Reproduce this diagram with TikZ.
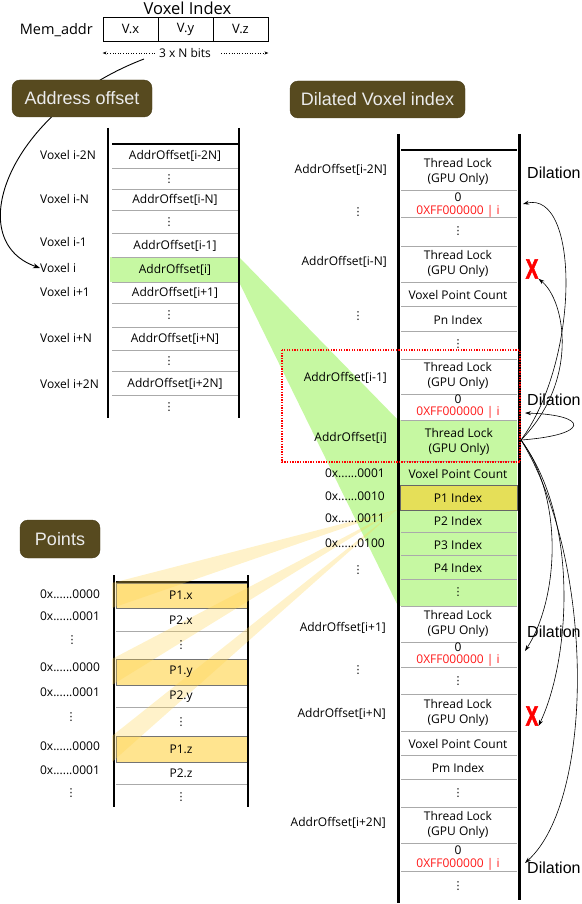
\documentclass[tikz,border=0pt]{standalone}
\usepackage{fontspec}
\setmainfont{Open Sans}
\newfontfamily\hdr{Liberation Sans}
\newfontfamily\xf[FakeBold=2.5]{Liberation Sans}
\newfontfamily\dvs{DejaVu Sans}
\usetikzlibrary{arrows.meta}
\definecolor{hdrbg}{HTML}{574A1F}
\definecolor{lgreen}{HTML}{C6F8A2}
\definecolor{pyellow}{HTML}{FFE48F}
\definecolor{pidx}{HTML}{E5DF58}
\definecolor{sepgray}{HTML}{AAAAAA}
\definecolor{coney}{HTML}{FFD54F}
\definecolor{redtx}{HTML}{FF1A1A}
\tikzset{
  body/.style={font=\fontsize{12}{15}\selectfont, inner sep=0pt, align=center},
  top/.style={font=\fontsize{14.5}{17}\selectfont, inner sep=0pt},
  cell/.style={draw=black, line width=0.8pt, minimum height=24pt, minimum width=55pt, inner sep=0pt, font=\fontsize{13}{15}\selectfont},
  hdrbox/.style={fill=hdrbg, draw=hdrbg!85!black, rounded corners=8pt, text=white!92!black, font=\hdr\fontsize{18}{20}\selectfont, inner sep=0pt},
  sep/.style={draw=sepgray, line width=0.8pt},
  vline/.style={draw=black, line width=1.4pt},
  thick3/.style={draw=black, line width=3pt},
  redtxt/.style={body, text=redtx},
  dil/.style={font=\hdr\fontsize{16}{18}\selectfont, inner sep=0pt, anchor=west},
  xmark/.style={font=\xf\bfseries\fontsize{28}{28}\selectfont, text=red, inner sep=0pt},
  darr/.style={-{Stealth[length=6pt,width=4pt]}, line width=0.6pt},
  dotarr/.style={dotted, line width=0.6pt, -{Stealth[length=4pt,width=3pt]}},
  vd/.style={inner sep=0pt, font=\dvs\fontsize{11}{11}\selectfont},
  pyrow/.style={fill=pyellow, draw=black!55, line width=1pt},
}
\newcommand{\vdt}{⋮}
\begin{document}
\begin{tikzpicture}[x=1pt,y=-1pt]
\useasboundingbox (0,0) rectangle (581,904);

% ---------- green cone ----------
\fill[lgreen] (239,257) -- (398,420) -- (398,606) -- (239,282) -- cycle;

% ---------- top: memory address ----------
\node[top, font=\fontsize{16.5}{18}\selectfont] (vidx) at (187.5,8) {Voxel Index};
\node[top, anchor=east] (mem) at (93,30) {Mem\_addr};
\node[cell] (vx) at (130.5,29) {V.x};
\node[cell] (vy) at (185.5,29) {V.y};
\node[cell] (vz) at (240.5,29) {V.z};
\node[body] (bits) at (185,53) {3 x N bits};
\draw[dotarr] (bits.west) ++(-4,0) -- (bits.west -| vx.west);
\draw[dotarr] (bits.east) ++(10,0) -- (bits.east -| vz.east);

% ---------- left table ----------
\fill[lgreen] (110,257) rectangle (239,282);
\foreach \y in {168,189,210,233,257,282,303,327,350,371,395}
  \draw[sep] (112,\y) -- (239,\y);
\draw[line width=1.2pt] (112,144) -- (239,144);
\draw[vline] (108,128) -- (108,418);
\draw[vline] (239,128) -- (239,418);

\node[body] (a1) at (175,156) {AddrOffset[i-2N]};
\node[vd] (ad1) at (169,179) {\vdt};
\node[body] (a2) at (175,200) {AddrOffset[i-N]};
\node[vd] (ad2) at (169,222) {\vdt};
\node[body] (a3) at (175,246) {AddrOffset[i-1]};
\node[body] (a4) at (175,270) {AddrOffset[i]};
\node[body] (a5) at (175,293) {AddrOffset[i+1]};
\node[vd] (ad3) at (169,315) {\vdt};
\node[body] (a6) at (175,339) {AddrOffset[i+N]};
\node[vd] (ad4) at (169,361) {\vdt};
\node[body] (a7) at (175,384) {AddrOffset[i+2N]};
\node[vd] (ad5) at (169,407) {\vdt};

\node[body, anchor=west] (v1) at (40,155) {Voxel i-2N};
\node[body, anchor=west] (v2) at (40,199) {Voxel i-N};
\node[body, anchor=west] (v3) at (40,242) {Voxel i-1};
\node[body, anchor=west] (v4) at (40,268) {Voxel i};
\node[body, anchor=west] (v5) at (40,292) {Voxel i+1};
\node[body, anchor=west] (v6) at (40,338) {Voxel i+N};
\node[body, anchor=west] (v7) at (40,384) {Voxel i+2N};

% curve from bits to Voxel i (behind header box)
\coordinate (cs) at (144,59);
\draw[line width=0.9pt, -{Stealth[length=7pt,width=5pt]}] (cs) .. controls (10,110) and (-40,240) .. (v4.west);
\node[hdrbox, minimum width=140pt, minimum height=37pt] (hAO) at (82,98.5) {Address offset};

% ---------- right table ----------
\fill[lgreen] (399,420) rectangle (517,606);
\foreach \y in {190,217,246,282,306,331,359,394,420,461,485,510,532,555,579,606,642,667,694,731,755,779,807,843,871}
  \draw[sep] (401,\y) -- (517,\y);
\draw[pyrow, fill=pidx, draw=black!60] (400,485) rectangle (517,510);
\draw[line width=1.2pt] (401,150) -- (517,150);

% ---------- points table ----------
\draw[pyrow] (116,583) rectangle (247,608);
\draw[pyrow] (116,659) rectangle (247,685);
\draw[pyrow] (116,736) rectangle (247,762);
\foreach \y in {631,707,784}
  \draw[sep] (116,\y) -- (247,\y);
\draw[line width=1.2pt] (116,582) -- (247,582);
\draw[vline] (114,575) -- (114,807);
\draw[vline] (248,575) -- (248,807);

% ---------- yellow cones ----------
\coordinate (yap) at (396,510);
\fill[coney, opacity=0.3] (yap) -- (112,583) -- (112,608) -- cycle;
\fill[coney, opacity=0.3] (yap) -- (112,659) -- (112,685) -- cycle;
\fill[coney, opacity=0.3] (yap) -- (112,736) -- (112,762) -- cycle;

% right table vertical lines
\draw[thick3] (398,134) -- (398,903);
\draw[thick3] (519,134) -- (519,900);

% right table texts
\node[body] (r1) at (458,172) {Thread Lock\\(GPU Only)};
\node[body] (r2a) at (458,197) {0};
\node[redtxt] (r2b) at (458,211) {0XFF000000 | i};
\node[vd] (r3) at (458,231) {\vdt};
\node[body] (r4) at (458,264) {Thread Lock\\(GPU Only)};
\node[body] (r5) at (458,295) {Voxel Point Count};
\node[body] (r6) at (458,320) {Pn Index};
\node[vd] (r7) at (458,344) {\vdt};
\node[body] (r8) at (458,376) {Thread Lock\\(GPU Only)};
\node[body] (r9a) at (458,399.5) {0};
\node[redtxt] (r9b) at (458,412.5) {0XFF000000 | i};
\node[body] (r10) at (459,442) {Thread Lock\\(GPU Only)};
\node[body] (r11) at (458,474) {Voxel Point Count};
\node[body] (r12) at (458,498) {P1 Index};
\node[body] (r13) at (458,521) {P2 Index};
\node[body] (r14) at (458,545) {P3 Index};
\node[body] (r15) at (458,568) {P4 Index};
\node[vd] (r16) at (458,592) {\vdt};
\node[body] (r17) at (458,624) {Thread Lock\\(GPU Only)};
\node[body] (r18a) at (458,647) {0};
\node[redtxt] (r18b) at (458,660) {0XFF000000 | i};
\node[vd] (r19) at (458,681) {\vdt};
\node[body] (r20) at (458,713) {Thread Lock\\(GPU Only)};
\node[body] (r21) at (458,744) {Voxel Point Count};
\node[body] (r22) at (458,768) {Pm Index};
\node[vd] (r23) at (458,793) {\vdt};
\node[body] (r24) at (458,825) {Thread Lock\\(GPU Only)};
\node[body] (r25a) at (458,850) {0};
\node[redtxt] (r25b) at (458,864) {0XFF000000 | i};
\node[vd] (r26) at (458,886) {\vdt};

% right table left labels
\node[body, anchor=east] (l1) at (387,170) {AddrOffset[i-2N]};
\node[vd] (ld1) at (358,212) {\vdt};
\node[body, anchor=east] (l2) at (387,262) {AddrOffset[i-N]};
\node[vd] (ld2) at (358,316) {\vdt};
\node[body, anchor=east] (l3) at (387,378) {AddrOffset[i-1]};
\node[body, anchor=east] (l4) at (387,438) {AddrOffset[i]};
\node[body, anchor=east] (l5) at (385,473) {0x......0001};
\node[body, anchor=east] (l6) at (385,496) {0x......0010};
\node[body, anchor=east] (l7) at (385,518) {0x......0011};
\node[body, anchor=east] (l8) at (385,543) {0x......0100};
\node[vd] (ld3) at (358,570) {\vdt};
\node[body, anchor=east] (l9) at (386,628) {AddrOffset[i+1]};
\node[vd] (ld4) at (358,670) {\vdt};
\node[body, anchor=east] (l10) at (386,714) {AddrOffset[i+N]};
\node[body, anchor=east] (l11) at (386,823) {AddrOffset[i+2N]};

% points texts
\node[body] (p1) at (181,595) {P1.x};
\node[body] (p2) at (181,620) {P2.x};
\node[vd] (p3) at (181,645) {\vdt};
\node[body] (p4) at (181,672) {P1.y};
\node[body] (p5) at (181,697) {P2.y};
\node[vd] (p6) at (181,722) {\vdt};
\node[body] (p7) at (181,749) {P1.z};
\node[body] (p8) at (181,773) {P2.z};
\node[vd] (p9) at (181,797) {\vdt};

\node[body] (q1) at (70,594) {0x......0000};
\node[body] (q2) at (70,616) {0x......0001};
\node[vd] (q3) at (72,640) {\vdt};
\node[body] (q4) at (70,667) {0x......0000};
\node[body] (q5) at (70,692) {0x......0001};
\node[vd] (q6) at (71,717) {\vdt};
\node[body] (q7) at (70,746) {0x......0000};
\node[body] (q8) at (70,770) {0x......0001};
\node[vd] (q9) at (71,793) {\vdt};

% headers
\node[hdrbox, minimum width=175pt, minimum height=37pt] (hDV) at (377.5,99.5) {Dilated Voxel index};
\node[hdrbox, minimum width=80pt, minimum height=38pt] (hP) at (60,539) {Points};

% red dotted box
\draw[red, line width=1.3pt, dash pattern=on 1.3pt off 1.3pt] (282,350) rectangle (520,462);

% dilation labels and X marks
\node[dil] (d1) at (527,173) {Dilation};
\node[dil] (d2) at (527,400) {Dilation};
\node[dil] (d3) at (527,632) {Dilation};
\node[dil] (d4) at (527,868) {Dilation};
\node[xmark] (x1) at (532,269) {\scalebox{0.68}[1]{X}};
\node[xmark] (x2) at (532,716) {\scalebox{0.68}[1]{X}};

% dilation arrows
\coordinate (apex) at (521,440);
\coordinate (t1) at (523,204);
\coordinate (t3) at (525,413);
\coordinate (t4) at (525,651);
\coordinate (t6) at (525,863);
\draw[darr] (apex) .. controls (580,360) and (580,190) .. (t1);
\draw[darr] (apex) .. controls (580,380) and (565,300) .. (x1.south east);
\draw[darr] (apex) .. controls (590,435) and (590,415) .. (t3);
\draw[darr] (apex) .. controls (565,500) and (558,600) .. (t4);
\draw[darr] (apex) .. controls (580,520) and (570,660) .. (x2.south east);
\draw[darr] (apex) .. controls (595,560) and (595,800) .. (t6);
\end{tikzpicture}
\end{document}
